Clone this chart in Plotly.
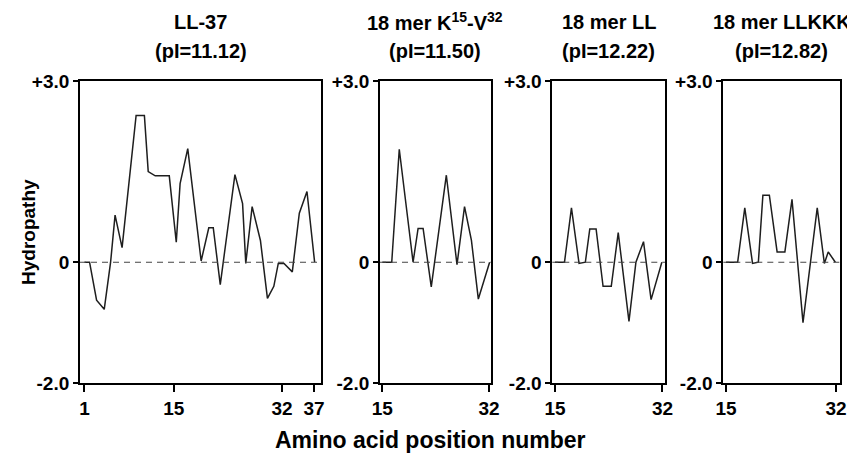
import plotly.graph_objects as go
from plotly.subplots import make_subplots

# ---- data (positions / hydropathy values) ----
titles = ["LL-37", "18 mer K<sup>15</sup>-V<sup>32</sup>", "18 mer LL", "18 mer LLKKK"]
pi_labels = ["(pI=11.12)", "(pI=11.50)", "(pI=12.22)", "(pI=12.82)"]

ll37_pos = [1.0, 1.8, 2.9, 4.1, 5.1, 5.8, 6.9, 9.1, 10.4, 11.0, 12.1, 14.3, 15.4, 16.0, 17.2,
            19.3, 20.5, 21.2, 22.3, 24.6, 25.8, 26.3, 27.3, 28.6, 29.7, 30.7, 31.4, 32.3,
            33.6, 34.7, 35.9, 37.1]
ll37_val = [0.0, 0.0, -0.63, -0.78, 0.0, 0.78, 0.24, 2.43, 2.43, 1.50, 1.43, 1.43, 0.33, 1.30,
            1.88, 0.02, 0.57, 0.57, -0.37, 1.45, 0.97, -0.02, 0.92, 0.36, -0.60, -0.40, -0.02,
            -0.02, -0.16, 0.81, 1.17, 0.0]

k15_pos = [15.0, 16.5, 17.7, 19.9, 20.7, 21.5, 22.8, 25.2, 26.9, 28.1, 29.2, 30.3, 32.1]
k15_val = [0.0, 0.0, 1.87, 0.0, 0.56, 0.56, -0.41, 1.44, -0.04, 0.92, 0.36, -0.61, 0.0]

ll_pos = [15.0, 16.5, 17.6, 18.8, 19.8, 20.5, 21.5, 22.6, 23.9, 25.0, 26.7, 27.8, 29.0, 30.2, 31.9]
ll_val = [0.0, 0.0, 0.90, -0.02, 0.0, 0.55, 0.55, -0.40, -0.40, 0.49, -0.98, 0.0, 0.34, -0.62, 0.0]

llkkk_pos = [15.0, 16.8, 17.9, 19.1, 20.0, 20.7, 21.7, 22.9, 24.1, 25.2, 26.9, 29.1, 30.2, 30.8, 31.9]
llkkk_val = [0.0, 0.0, 0.90, -0.02, 0.0, 1.11, 1.11, 0.17, 0.17, 1.04, -1.00, 0.90, -0.02, 0.17, 0.0]

series_pos = [ll37_pos, k15_pos, ll_pos, llkkk_pos]
series_val = [ll37_val, k15_val, ll_val, llkkk_val]

x_ticks = [[1, 15, 32, 37], [15, 32], [15, 32], [15, 32]]
x_ranges = [[0.3, 38.1], [14.63, 32.27], [14.57, 32.4], [14.58, 32.62]]
y_tickvals = [-2, 0, 3]
y_ticktext = ["-2.0", "0", "+3.0"]

# ---- layout geometry (screen pixels; page body has an 8px margin) ----
OFF = 8
W, H = 855 - OFF, 459 - OFF
px_domains = [(80, 321), (380, 490.7), (552.3, 665), (723.3, 840)]
top_px, bot_px = 81, 383
FONT = "Liberation Sans, Arial, sans-serif"


def fx(px):
    return (px - OFF) / W


def fy(py):
    return 1 - (py - OFF) / H


fig = make_subplots(rows=1, cols=4)

for i in range(4):
    fig.add_trace(go.Scatter(x=series_pos[i], y=series_val[i], mode="lines",
                             line=dict(color="#1e1e1e", width=1.5),
                             showlegend=False, hoverinfo="skip"), row=1, col=i + 1)
    fig.add_hline(y=0, line=dict(color="#444444", width=1.1, dash="6px,5px"),
                  row=1, col=i + 1)

for i in range(4):
    xa = "xaxis" if i == 0 else f"xaxis{i+1}"
    ya = "yaxis" if i == 0 else f"yaxis{i+1}"
    x0, x1 = px_domains[i]
    fig.layout[xa].update(
        domain=[fx(x0), fx(x1)], range=x_ranges[i], tickvals=x_ticks[i],
        ticktext=[str(t) for t in x_ticks[i]], ticks="outside", ticklen=7, tickwidth=1.5,
        tickcolor="black", showline=True, mirror=True, linecolor="black", linewidth=1.8,
        showgrid=False, zeroline=False, automargin=False,
        tickfont=dict(family=FONT, size=19, color="black", weight="bold"))
    fig.layout[ya].update(
        domain=[fy(bot_px), fy(top_px)], range=[-2, 3],
        tickvals=y_tickvals, ticktext=y_ticktext, ticks="outside", ticklen=5,
        tickwidth=1.5, tickcolor="black", showline=True, mirror=True, linecolor="black",
        linewidth=1.8, showgrid=False, zeroline=False, automargin=False,
        tickfont=dict(family=FONT, size=19, color="black", weight="bold"))

annotations = []
for i in range(4):
    cx = fx((px_domains[i][0] + px_domains[i][1]) / 2)
    annotations.append(dict(x=cx, y=fy(22), xref="paper", yref="paper",
                            xanchor="center", yanchor="middle",
                            text=titles[i], showarrow=False,
                            font=dict(family=FONT, size=20, color="black", weight="bold")))
    annotations.append(dict(x=cx, y=fy(51), xref="paper", yref="paper",
                            xanchor="center", yanchor="middle",
                            text=pi_labels[i], showarrow=False,
                            font=dict(family=FONT, size=20, color="black", weight="bold")))
annotations.append(dict(x=fx(28), y=fy(232), xref="paper", yref="paper",
                        xanchor="center", yanchor="middle",
                        text="Hydropathy", textangle=-90, showarrow=False,
                        font=dict(family=FONT, size=19, color="black", weight="bold")))
annotations.append(dict(x=fx(430), y=fy(440), xref="paper", yref="paper",
                        xanchor="center", yanchor="middle",
                        text="Amino acid position number", showarrow=False,
                        font=dict(family=FONT, size=23, color="black", weight="bold")))

fig.update_layout(width=W, height=H, margin=dict(l=0, r=0, t=0, b=0, pad=0),
                  plot_bgcolor="white", paper_bgcolor="white",
                  annotations=annotations)

fig.write_html("out.html")
